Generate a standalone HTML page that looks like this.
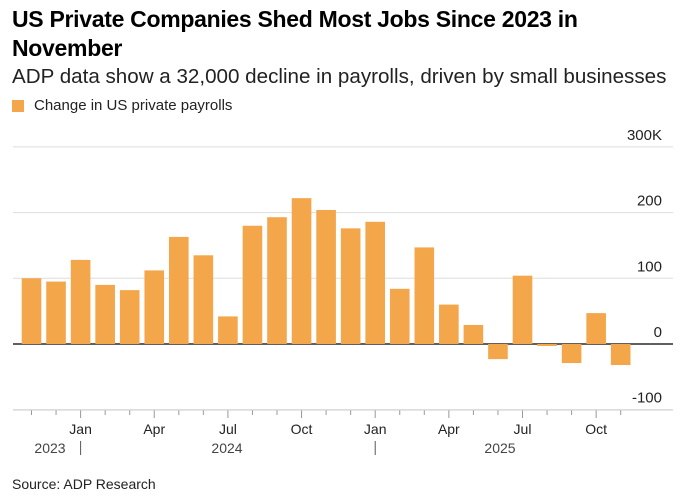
<!DOCTYPE html>
<html><head><meta charset="utf-8"><style>
body{margin:0;background:#fff;font-family:"Liberation Sans",sans-serif;}
#wrap{position:relative;width:691px;height:501px;overflow:hidden}
.t{position:absolute;white-space:nowrap;color:#000}
</style></head><body><div id="wrap">
<div class="t" style="left:12px;top:5px;font-size:23px;font-weight:bold;line-height:29px;width:640px;white-space:normal;letter-spacing:-0.3px">US Private Companies Shed Most Jobs Since 2023 in November</div>
<div class="t" style="left:12px;top:65px;font-size:20.6px;color:#222">ADP data show a 32,000 decline in payrolls, driven by small businesses</div>
<div style="position:absolute;left:12px;top:100px;width:12px;height:12px;background:#f4a64a"></div>
<div class="t" style="left:34px;top:97px;font-size:15px;color:#222">Change in US private payrolls</div>
<div class="t" style="left:12px;top:476px;font-size:14px;color:#222">Source: ADP Research</div>
<svg id="c" width="691" height="501" style="position:absolute;left:0;top:0"></svg>
</div>
<script>
const months=["Nov","Dec","Jan","Feb","Mar","Apr","May","Jun","Jul","Aug","Sep","Oct","Nov","Dec","Jan","Feb","Mar","Apr","May","Jun","Jul","Aug","Sep","Oct","Nov"];
const values=[100,95,128,90,82,112,163,135,42,180,193,222,204,176,186,84,147,60,29,-23,104,-3,-29,47,-32];
const yTicks=[300,200,100,0,-100];
const yTickLabels=["300K","200","100","0","-100"];
const years=["2023","2024","2025"];
const NS="http://www.w3.org/2000/svg";
const svg=document.getElementById('c');
const y0=344,ppu=0.657;
function y(v){return y0-v*ppu;}
function x(i){return 31.5+i*24.55;}
function mk(tag,a){const e=document.createElementNS(NS,tag);for(const k in a)e.setAttribute(k,a[k]);svg.appendChild(e);return e;}
yTicks.forEach((t,i)=>{
 const l=mk('line',{x1:13,x2:673,y1:y(t),y2:y(t),stroke:t===0?'#000':'#ddd','stroke-width':t===0?1.3:1});
 
 
 const tx=mk('text',{x:662,y:y(t)-7,'text-anchor':'end','font-size':15,fill:'#222','font-family':'Liberation Sans, sans-serif'});
 tx.textContent=yTickLabels[i];
 
 
});
values.forEach((v,i)=>{
 const r=mk('rect',{x:x(i)-9.8,width:19.6,y:Math.min(y(v),y0),height:Math.abs(y(v)-y0),fill:'#f4a64a'});
 
 
});
months.forEach((m,i)=>{
 const major=["Jan","Apr","Jul","Oct"].includes(m);
 const t=mk('line',{x1:x(i),x2:x(i),y1:410,y2:major?418:415,stroke:'#999'});
 
 
 if(major){
  const tx=mk('text',{x:x(i),y:434,'text-anchor':'middle','font-size':14,fill:'#222','font-family':'Liberation Sans, sans-serif'});
  tx.textContent=m;
  
  
 }
 if(m==="Jan"){
  const s=mk('line',{x1:x(i),x2:x(i),y1:441,y2:455,stroke:'#555'});
  
  
 }
});
const yrX=[50,227,500];
years.forEach((yr,i)=>{
 const tx=mk('text',{x:yrX[i],y:453,'text-anchor':'middle','font-size':14,fill:'#444','font-family':'Liberation Sans, sans-serif'});
 tx.textContent=yr;
 
 
});
const ax=mk('line',{x1:13,x2:673,y1:410,y2:410,stroke:'#ccc'});


</script></body></html>
